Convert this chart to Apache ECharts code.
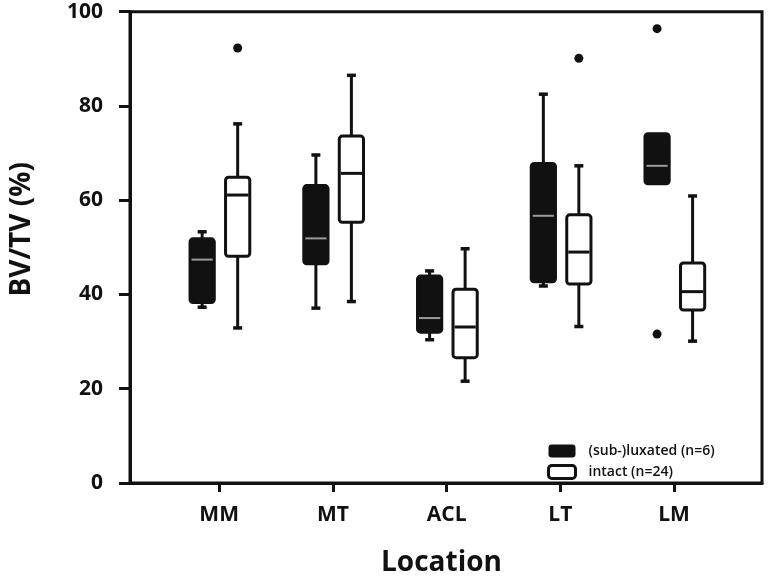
<!DOCTYPE html>
<html>
<head>
<meta charset="utf-8">
<script src="https://cdn.jsdelivr.net/npm/echarts@6/dist/echarts.min.js"></script>
<style>
html,body{margin:0;padding:0;background:#fff;}
#chart{width:768px;height:582px;}
</style>
</head>
<body>
<div id="chart"></div>
<script>
// ---- data ----
var categories = ['MM', 'MT', 'ACL', 'LT', 'LM'];
// [min, Q1, median, Q3, max]
var luxatedBoxes = [
  [37.3, 38.3, 47.4, 51.8, 53.3],
  [37.1, 46.5, 51.9, 63.1, 69.6],
  [30.4, 32.0, 35.0, 43.9, 45.0],
  [41.8, 42.7, 56.7, 67.8, 82.5],
  [63.5, 63.5, 67.3, 74.1, 74.1]
];
var intactBoxes = [
  [32.9, 48.1, 61.1, 64.9, 76.2],
  [38.5, 55.3, 65.7, 73.6, 86.5],
  [21.6, 26.6, 33.1, 41.1, 49.7],
  [33.2, 42.2, 49.0, 56.9, 67.3],
  [30.1, 36.7, 40.6, 46.7, 60.9]
];
// [category index, value]
var luxatedOutliers = [[4, 96.4], [4, 31.6]];
var intactOutliers = [[0, 92.3], [3, 90.1]];
var yTicks = [0, 20, 40, 60, 80, 100];
var seriesNames = ['(sub-)luxated (n=6)', 'intact (n=24)'];

// ---- build ----
var INK = '#111';
function boxData(arr) {
  return arr.map(function (b, i) { return [i + 1].concat(b); });
}
function outlierData(arr) {
  return arr.map(function (o) { return [o[0] + 1, o[1]]; });
}
function makeRender(offsetPx, fill, medColor, medWidth) {
  return function (params, api) {
    var x = api.value(0);
    var v = [1, 2, 3, 4, 5].map(function (i) { return api.value(i); });
    var unit = api.size([1, 0])[0];
    var w = unit * 0.213;
    var cx = api.coord([x, 0])[0] + offsetPx;
    var y = v.map(function (val) { return api.coord([x, val])[1]; });
    var capHalf = 4.5;
    var ch = [];
    if (Math.abs(y[0] - y[1]) > 0.5) {
      ch.push({type: 'line', shape: {x1: cx, y1: y[1], x2: cx, y2: y[0]}, style: {stroke: INK, lineWidth: 3}});
      ch.push({type: 'line', shape: {x1: cx - capHalf, y1: y[0], x2: cx + capHalf, y2: y[0]}, style: {stroke: INK, lineWidth: 3.5}});
    }
    if (Math.abs(y[4] - y[3]) > 0.5) {
      ch.push({type: 'line', shape: {x1: cx, y1: y[3], x2: cx, y2: y[4]}, style: {stroke: INK, lineWidth: 3}});
      ch.push({type: 'line', shape: {x1: cx - capHalf, y1: y[4], x2: cx + capHalf, y2: y[4]}, style: {stroke: INK, lineWidth: 3.5}});
    }
    ch.push({type: 'rect', shape: {x: cx - w / 2, y: y[3], width: w, height: y[1] - y[3], r: 3},
      style: {fill: fill, stroke: INK, lineWidth: 3}});
    ch.push({type: 'line', shape: {x1: cx - w / 2 + 1.5, y1: y[2], x2: cx + w / 2 - 1.5, y2: y[2]},
      style: {stroke: medColor, lineWidth: medWidth}});
    return {type: 'group', children: ch};
  };
}

var chart = echarts.init(document.getElementById('chart'), null, {renderer: 'canvas'});
var labelFont = {fontFamily: 'Open Sans', fontWeight: 'bold', fontSize: 21, color: INK};

var option = {
  animation: false,
  backgroundColor: '#fff',
  grid: {left: 129, right: 6, top: 11.7, bottom: 93.5, show: true, borderColor: INK, borderWidth: 3, backgroundColor: 'transparent'},
  legend: {
    orient: 'vertical', left: 542, top: 438, itemWidth: 27, itemHeight: 13, itemGap: 5,
    selectedMode: false,
    textStyle: {fontFamily: 'Open Sans', fontWeight: 600, fontSize: 14, color: '#111', padding: [0, 0, 0, 8], lineHeight: 16},
    data: [
      {name: seriesNames[0], icon: 'roundRect', itemStyle: {color: INK, borderColor: INK, borderWidth: 0}},
      {name: seriesNames[1], icon: 'roundRect', itemStyle: {color: '#fff', borderColor: INK, borderWidth: 3}}
    ]
  },
  xAxis: {
    type: 'value', min: 0.216, max: 5.773,
    name: 'Location', nameLocation: 'middle', nameGap: 66,
    nameTextStyle: {fontFamily: 'Open Sans', fontWeight: 'bold', fontSize: 28, color: INK, padding: [0, 9, 0, 0]},
    splitLine: {show: false},
    axisLine: {show: true, onZero: false, lineStyle: {color: INK, width: 3}},
    axisTick: {show: true, inside: false, length: 9, lineStyle: {color: INK, width: 3},
      customValues: categories.map(function (c, i) { return i + 1; })},
    axisLabel: Object.assign({margin: 22,
      customValues: categories.map(function (c, i) { return i + 1; }),
      formatter: function (val) { var i = Math.round(val) - 1; return (Math.abs(val - i - 1) < 1e-6 && categories[i]) ? categories[i] : ''; }
    }, labelFont)
  },
  yAxis: {
    type: 'value', min: 0, max: 100, interval: 20,
    name: 'BV/TV (%)', nameLocation: 'middle', nameGap: 94, nameRotate: 90,
    nameTextStyle: {fontFamily: 'Open Sans', fontWeight: 'bold', fontSize: 28, color: INK, padding: [0, 0, 0, 36]},
    splitLine: {show: false},
    axisLine: {show: true, lineStyle: {color: INK, width: 3}},
    axisTick: {show: true, inside: false, length: 11, lineStyle: {color: INK, width: 3},
      customValues: yTicks},
    axisLabel: Object.assign({margin: 27, customValues: yTicks}, labelFont)
  },
  series: [
    {
      name: seriesNames[0], type: 'custom', renderItem: makeRender(-17, INK, '#9a9a9a', 2),
      encode: {x: 0, y: [1, 2, 3, 4, 5]}, data: boxData(luxatedBoxes), itemStyle: {color: INK}, z: 3
    },
    {
      name: seriesNames[1], type: 'custom', renderItem: makeRender(18.5, '#fff', INK, 3),
      encode: {x: 0, y: [1, 2, 3, 4, 5]}, data: boxData(intactBoxes), itemStyle: {color: '#fff'}, z: 3
    },
    {
      name: seriesNames[0], type: 'scatter', symbol: 'circle', symbolSize: 9, symbolOffset: [-17, 0],
      itemStyle: {color: INK, opacity: 1}, data: outlierData(luxatedOutliers), z: 4
    },
    {
      name: seriesNames[1], type: 'scatter', symbol: 'circle', symbolSize: 9, symbolOffset: [18.5, 0],
      itemStyle: {color: INK, opacity: 1}, data: outlierData(intactOutliers), z: 4
    }
  ]
};
chart.setOption(option);
</script>
</body>
</html>
